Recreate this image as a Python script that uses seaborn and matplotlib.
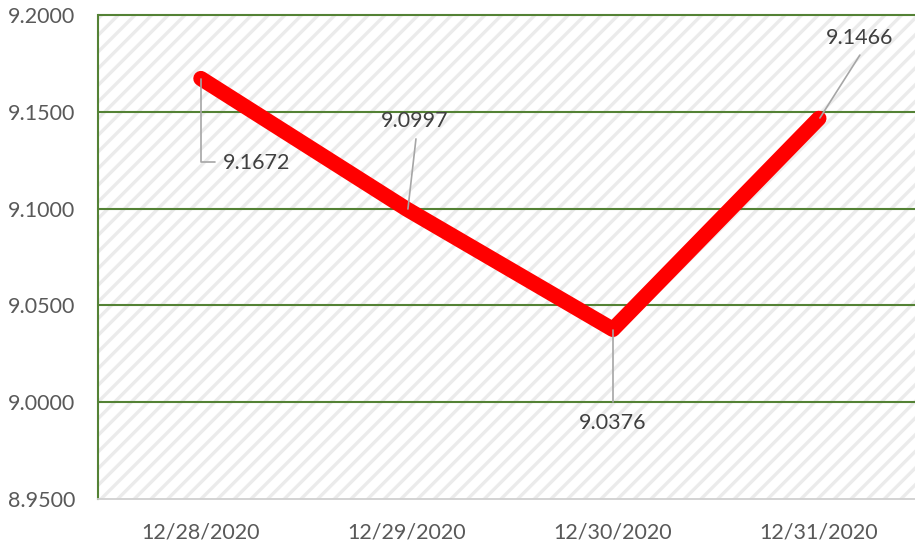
import matplotlib.pyplot as plt
import seaborn as sns
import pandas as pd

# ------------------------------
# Data
# ------------------------------
dates = ["12/28/2020", "12/29/2020", "12/30/2020", "12/31/2020"]
values = [9.1672, 9.0997, 9.0376, 9.1466]
y_ticks = [8.95, 9.00, 9.05, 9.10, 9.15, 9.20]

df = pd.DataFrame({"date": dates, "value": values})

# ------------------------------
# Figure
# ------------------------------
sns.set_style("white")
plt.rcParams['font.family'] = ['Lato', 'DejaVu Sans']
plt.rcParams['hatch.color'] = '#ebebeb'
plt.rcParams['hatch.linewidth'] = 2.4

fig = plt.figure(figsize=(9.15, 5.46), dpi=100)
ax = fig.add_axes([0.107, 0.0861, 0.9005, 0.8864])

ax.patch.set_facecolor("white")
ax.patch.set_hatch("//")
ax.patch.set_edgecolor("#ebebeb")

sns.lineplot(data=df, x="date", y="value", ax=ax, color="#ff0000",
             linewidth=11, sort=False, zorder=3)
ax.lines[0].set_solid_capstyle("round")
ax.lines[0].set_solid_joinstyle("round")

ax.set_xlim(-0.5, 3.5)
ax.set_ylim(8.95, 9.2)
ax.set_yticks(y_ticks)
ax.set_yticklabels([f"{t:.4f}" for t in y_ticks])

for t in y_ticks[1:]:
    ax.axhline(t, color="#548235", linewidth=1.5, zorder=1, clip_on=False)

# spines
for s in ["top", "right"]:
    ax.spines[s].set_visible(False)
ax.spines["left"].set_color("#548235")
ax.spines["left"].set_linewidth(1.5)
ax.spines["bottom"].set_color("#d0d0d0")
ax.spines["bottom"].set_linewidth(1.3)

# ticks between categories on x
ax.set_xticks(range(len(dates)))
ax.set_xticklabels(dates)
ax.set_xticks([i - 0.5 for i in range(len(dates) + 1)], minor=True)
ax.tick_params(axis="x", which="major", length=0, pad=17, labelsize=15.5, labelcolor="#595959")
ax.tick_params(axis="x", which="minor", length=5, color="#d0d0d0", width=1.3)
ax.tick_params(axis="y", length=0, pad=16.5, labelsize=15.5, labelcolor="#595959")
ax.set_xlabel("")
ax.set_ylabel("")

# data labels with leader lines
label_pos = [(0.27, 9.1236), (1.039, 9.1452), (2.0, 8.9893), (3.199, 9.1881)]
leaders = [
    [(0, 9.1672), (0, 9.1241), (0.068, 9.1241)],
    [(1.005, 9.0998), (1.044, 9.136)],
    [(2.0, 9.0372), (2.0, 9.0)],
    [(3.005, 9.1468), (3.199, 9.1793)],
]
for v, (lx, ly), pts in zip(values, label_pos, leaders):
    xs = [p[0] for p in pts]
    ys = [p[1] for p in pts]
    ax.plot(xs, ys, color="#a6a6a6", linewidth=1.2, zorder=4)
    ax.text(lx, ly, f"{v:.4f}", ha="center", va="center", fontsize=15.5,
            color="#404040", zorder=5)

fig.savefig("out.png", dpi=100)
